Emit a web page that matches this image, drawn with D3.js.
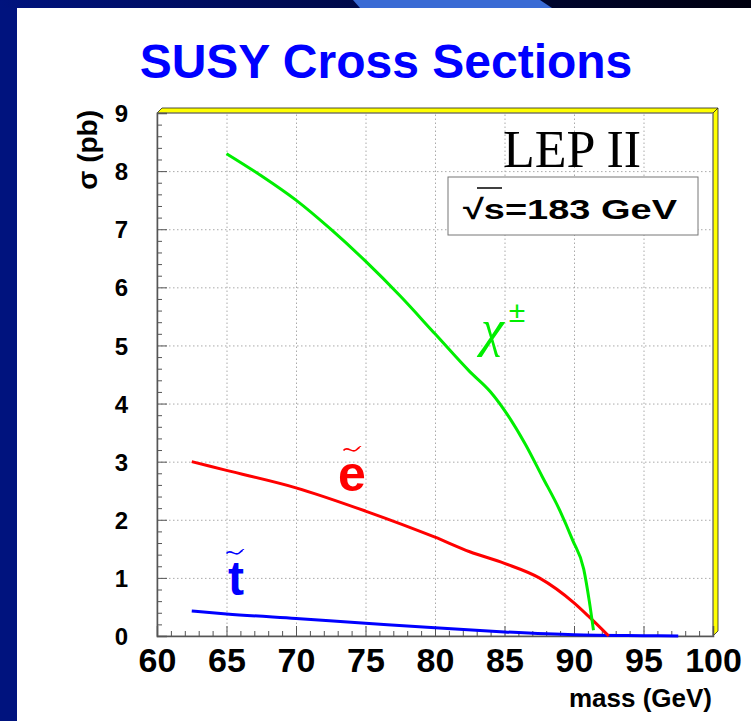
<!DOCTYPE html>
<html>
<head>
<meta charset="utf-8">
<script src="https://cdn.jsdelivr.net/npm/d3@7"></script>
<style>
  body { margin: 0; background: #fff; }
  svg { display: block; font-family: "Liberation Sans", Arial, sans-serif; }
</style>
</head>
<body>
<svg id="chart"></svg>
<script>
// cross sections (mass in GeV, sigma in pb)
const charginoMass  = [65, 67.5, 70, 72.5, 75, 77.5, 80, 82.5, 84, 86.5, 87.7, 89, 89.9, 90.7, 91.1, 91.4];
const charginoSigma = [8.3, 7.92, 7.5, 7.0, 6.45, 5.85, 5.2, 4.55, 4.2, 3.3, 2.75, 2.15, 1.65, 1.15, 0.6, 0.1];

const selectronMass  = [62.5, 65, 70, 75, 80, 82.5, 85, 87.5, 90, 91, 92.5];
const selectronSigma = [3.0, 2.85, 2.55, 2.15, 1.7, 1.45, 1.25, 1.0, 0.57, 0.35, 0.0];

const stopMass  = [62.5, 65, 70, 75, 80, 85, 90, 95, 97.5];
const stopSigma = [0.43, 0.38, 0.30, 0.22, 0.14, 0.07, 0.02, 0.005, 0.0];

const xTicks = [60, 65, 70, 75, 80, 85, 90, 95, 100];
const yTicks = [0, 1, 2, 3, 4, 5, 6, 7, 8, 9];

const W = 751, H = 721;
const margin = { top: 113, right: 38, bottom: 85, left: 157 };
const width = W - margin.left - margin.right;
const height = H - margin.top - margin.bottom;

const sans = '"Liberation Sans", Arial, sans-serif';
const serif = '"Liberation Serif", "Times New Roman", serif';

const svg = d3.select('#chart').attr('width', W).attr('height', H);

// slide background: navy border and a lighter band on top
const defs = svg.append('defs');
const grad = defs.append('linearGradient').attr('id', 'topband');
grad.append('stop').attr('offset', '0%').attr('stop-color', '#00137e');
grad.append('stop').attr('offset', '100%').attr('stop-color', '#00000f');

svg.append('rect').attr('width', W).attr('height', H).attr('fill', '#00137e');
svg.append('rect').attr('width', W).attr('height', 8).attr('fill', 'url(#topband)');
svg.append('path')
  .attr('d', 'M353,0 L540,0 L552,8 L360,8 Z')
  .attr('fill', '#3a6bd4');
svg.append('rect').attr('x', 17).attr('y', 8).attr('width', W - 17).attr('height', H - 8).attr('fill', '#fff');

// title
svg.append('text')
  .attr('x', 386).attr('y', 78)
  .attr('text-anchor', 'middle')
  .style('font-family', sans)
  .attr('font-size', 48).attr('font-weight', 'bold')
  .attr('fill', '#0000ff')
  .text('SUSY Cross Sections');

const x = d3.scaleLinear().domain([60, 100]).range([0, width]);
const y = d3.scaleLinear().domain([0, 9]).range([height, 0]);

const g = svg.append('g').attr('transform', `translate(${margin.left},${margin.top})`);

// yellow 3d frame behind the plot
const d = 5;
g.append('path')
  .attr('d', `M0,0 L${d},${-d} L${width + d},${-d} L${width},0 Z`)
  .attr('fill', '#ffff00').attr('stroke', '#222').attr('stroke-width', 0.8);
g.append('path')
  .attr('d', `M${width},0 L${width + d},${-d} L${width + d},${height - d} L${width},${height} Z`)
  .attr('fill', '#ffff00').attr('stroke', '#222').attr('stroke-width', 0.8);

// grid
g.append('g')
  .attr('transform', `translate(0,${height})`)
  .call(d3.axisBottom(x).tickValues(xTicks.slice(1, -1)).tickSize(-height).tickFormat(''))
  .call(s => s.select('.domain').remove())
  .selectAll('line').attr('stroke', '#aaa').attr('stroke-dasharray', '1.5,2.5');
g.append('g')
  .call(d3.axisLeft(y).tickValues(yTicks.slice(1, -1)).tickSize(-width).tickFormat(''))
  .call(s => s.select('.domain').remove())
  .selectAll('line').attr('stroke', '#aaa').attr('stroke-dasharray', '1.5,2.5');

g.append('rect').attr('width', width).attr('height', height)
  .attr('fill', 'none').attr('stroke', '#888').attr('stroke-width', 0.8);

// minor ticks
const xMinor = d3.range(60, 100.01, 1).filter(v => v % 5 !== 0);
const yMinor = d3.range(0, 9.001, 0.2).filter(v => Math.abs(v - Math.round(v)) > 1e-6);

g.append('g')
  .attr('transform', `translate(0,${height})`)
  .call(d3.axisBottom(x).tickValues(xMinor).tickSize(-5).tickFormat(''))
  .call(s => s.select('.domain').remove())
  .selectAll('line').attr('stroke', '#555');
g.append('g')
  .call(d3.axisLeft(y).tickValues(yMinor).tickSize(-5).tickFormat(''))
  .call(s => s.select('.domain').remove())
  .selectAll('line').attr('stroke', '#555');

// major axes
const xAxis = g.append('g')
  .attr('transform', `translate(0,${height})`)
  .call(d3.axisBottom(x).tickValues(xTicks).tickSize(-10).tickPadding(12));
const yAxis = g.append('g')
  .call(d3.axisLeft(y).tickValues(yTicks).tickSize(-10).tickPadding(29));

[xAxis, yAxis].forEach(a => {
  a.attr('font-family', null);
  a.select('.domain').attr('stroke', '#555').attr('stroke-width', 1.5);
  a.selectAll('line').attr('stroke', '#555');
  a.selectAll('text').style('font-family', sans)
    .attr('font-weight', 'bold').attr('fill', '#000');
});
xAxis.selectAll('text').attr('font-size', 34);
yAxis.selectAll('text').attr('font-size', 24).attr('dy', '0.36em');

// axis titles
svg.append('text')
  .attr('x', 712).attr('y', 707)
  .attr('text-anchor', 'end')
  .style('font-family', sans)
  .attr('font-size', 26).attr('font-weight', 'bold')
  .text('mass (GeV)');
svg.append('text')
  .attr('transform', 'translate(97,110) rotate(-90)')
  .attr('text-anchor', 'end')
  .style('font-family', sans)
  .attr('font-size', 28).attr('font-weight', 'bold')
  .text('σ (pb)');

// curves
const line = d3.line()
  .x(p => x(p[0]))
  .y(p => y(p[1]))
  .curve(d3.curveMonotoneX);

const series = [
  { m: stopMass, s: stopSigma, color: '#0000ff' },
  { m: selectronMass, s: selectronSigma, color: '#ff0000' },
  { m: charginoMass, s: charginoSigma, color: '#00ee00' }
];
series.forEach(sr => {
  g.append('path')
    .datum(d3.zip(sr.m, sr.s))
    .attr('d', line)
    .attr('fill', 'none')
    .attr('stroke', sr.color)
    .attr('stroke-width', 3);
});

// curve labels
function tilde(cx, cy, w, color) {
  svg.append('path')
    .attr('d', `M${cx - w / 2},${cy + 1.5} C${cx - w / 4},${cy - 4} ${cx},${cy + 5} ${cx + w / 4},${cy + 1} S${cx + w / 2},${cy - 2} ${cx + w / 2},${cy - 2}`)
    .attr('fill', 'none').attr('stroke', color).attr('stroke-width', 1.6);
}

svg.append('text')
  .attr('x', 352).attr('y', 491)
  .attr('text-anchor', 'middle')
  .style('font-family', sans)
  .attr('font-size', 50).attr('font-weight', 'bold')
  .attr('fill', '#ff0000')
  .text('e');
tilde(352, 449, 17, '#ff0000');

svg.append('text')
  .attr('x', 236).attr('y', 595)
  .attr('text-anchor', 'middle')
  .style('font-family', sans)
  .attr('font-size', 48).attr('font-weight', 'bold')
  .attr('fill', '#0000ff')
  .text('t');
tilde(235, 552, 17, '#0000ff');

svg.append('text')
  .attr('x', 481).attr('y', 346)
  .style('font-family', serif)
  .attr('font-style', 'italic')
  .attr('font-size', 52)
  .attr('fill', '#00ee00')
  .text('χ');
svg.append('text')
  .attr('x', 517).attr('y', 322)
  .attr('text-anchor', 'middle')
  .style('font-family', sans)
  .attr('font-size', 30)
  .attr('fill', '#00ee00')
  .text('±');

// LEP II label and energy box
svg.append('text')
  .attr('x', 572).attr('y', 167)
  .attr('text-anchor', 'middle')
  .style('font-family', serif)
  .attr('font-size', 52)
  .text('LEP II');

svg.append('rect')
  .attr('x', 448).attr('y', 177).attr('width', 250).attr('height', 58)
  .attr('fill', '#fff').attr('stroke', '#777').attr('stroke-width', 1);
svg.append('text')
  .attr('x', 463).attr('y', 219)
  .style('font-family', sans)
  .attr('font-size', 28).attr('font-weight', 'bold')
  .attr('textLength', 214).attr('lengthAdjust', 'spacingAndGlyphs')
  .text('√s=183 GeV');
svg.append('line')
  .attr('x1', 477).attr('x2', 502).attr('y1', 188).attr('y2', 188)
  .attr('stroke', '#000').attr('stroke-width', 1.5);
</script>
</body>
</html>
